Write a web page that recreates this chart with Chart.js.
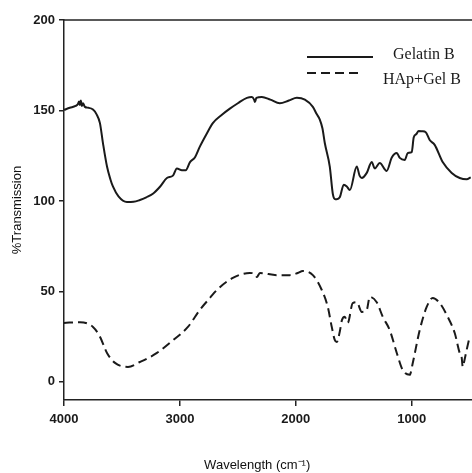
<!DOCTYPE html>
<html>
<head>
<meta charset="utf-8">
<script src="https://cdn.jsdelivr.net/npm/chart.js@4"></script>
<style>
  body { margin: 0; background: #fff; }
  canvas { display: block; }
</style>
</head>
<body>
<canvas id="grafico" width="472" height="473"></canvas>
<script>
var gelWave = [4000, 3950, 3900, 3880, 3870, 3862, 3855, 3845, 3835, 3820, 3790, 3750, 3720, 3690, 3664, 3629, 3600, 3578, 3530, 3457, 3400, 3345, 3290, 3233, 3170, 3112, 3060, 3026, 2983, 2950, 2913, 2871, 2828, 2770, 2716, 2640, 2569, 2500, 2422, 2379, 2360, 2353, 2340, 2293, 2220, 2138, 2060, 1991, 1922, 1853, 1820, 1793, 1770, 1750, 1707, 1681, 1660, 1647, 1621, 1586, 1560, 1534, 1474, 1450, 1431, 1388, 1345, 1319, 1276, 1216, 1172, 1129, 1103, 1060, 1034, 1000, 983, 960, 940, 910, 879, 845, 802, 733, 655, 586, 526, 491];
var gelT = [150.3, 151.5, 152.5, 153.5, 155, 153, 155.5, 152.5, 154, 152, 151.5, 150.5, 148, 143, 132, 119, 112, 108, 102.5, 99.4, 99.5, 100.5, 102, 104, 108, 112.7, 114, 118, 117, 117, 121.5, 124, 130, 137, 143, 147.5, 151, 154, 157, 157.5, 156, 154.7, 157, 157.5, 156, 154, 155.5, 157, 156, 152, 148, 145, 140, 132, 119, 104, 101, 101, 102, 109, 108, 106, 119, 114, 112.7, 115.5, 121.5, 118, 121, 116.6, 124, 126.5, 123.8, 122.7, 126.5, 127, 135, 137, 138.7, 138.5, 138, 133.7, 131, 121.5, 115.5, 112.7, 112, 113];

var hapWave = [4000, 3862, 3750, 3690, 3629, 3560, 3448, 3345, 3198, 3060, 2931, 2828, 2741, 2681, 2543, 2397, 2350, 2336, 2310, 2164, 2052, 1983, 1940, 1853, 1776, 1724, 1690, 1664, 1647, 1620, 1603, 1578, 1552, 1509, 1474, 1431, 1388, 1362, 1302, 1250, 1190, 1129, 1078, 1017, 991, 931, 871, 819, 759, 690, 629, 586, 570, 560, 545, 526, 500];
var hapT = [32.6, 33, 30.4, 25, 16, 10.5, 8.3, 11, 16, 23, 30.4, 39.8, 46.4, 50.8, 57.5, 60.2, 59.5, 58, 60.2, 59, 59, 60.2, 61.3, 59, 50.8, 41.4, 30.4, 23.2, 22, 28, 34, 36, 32.6, 43.6, 44, 38.7, 39.8, 47, 44, 36, 28.7, 16, 6.6, 3.9, 10.5, 28.7, 41.4, 46.4, 43.6, 36, 27, 16, 14, 8.3, 12, 17.7, 25];

var etiquetas = ['Gelatin B', 'HAp+Gel B'];
var xTicks = [4000, 3000, 2000, 1000];
var yTicks = [0, 50, 100, 150, 200];

function puntos(xs, ys) {
  return xs.map(function (x, i) { return { x: x, y: ys[i] }; });
}

// leyenda dibujada a mano (linea a la izquierda, texto a la derecha)
var leyenda = {
  id: 'leyenda',
  afterDraw: function (chart) {
    var ctx = chart.ctx;
    var area = chart.chartArea;
    ctx.save();
    ctx.strokeStyle = '#222';
    ctx.lineWidth = 1.5;
    ctx.beginPath();
    ctx.moveTo(area.left, area.top);
    ctx.lineTo(area.right, area.top);
    ctx.stroke();

    var lineaY = [57, 73];
    var lineaFin = [373, 358];
    var textoX = [393, 383];
    var textoY = [55, 80];
    chart.data.datasets.forEach(function (ds, i) {
      ctx.strokeStyle = ds.borderColor;
      ctx.lineWidth = 2;
      ctx.setLineDash(ds.borderDash || []);
      ctx.beginPath();
      ctx.moveTo(307, lineaY[i]);
      ctx.lineTo(lineaFin[i], lineaY[i]);
      ctx.stroke();
      ctx.setLineDash([]);
      ctx.fillStyle = '#1a1a1a';
      ctx.font = '16px "Liberation Serif", "Times New Roman", serif';
      ctx.textBaseline = 'middle';
      ctx.textAlign = 'left';
      ctx.fillText(ds.label, textoX[i], textoY[i]);
    });
    ctx.restore();
  }
};

function sinComa(v) { return String(v); }

new Chart(document.getElementById('grafico'), {
  type: 'line',
  data: {
    datasets: [
      {
        label: etiquetas[0],
        data: puntos(gelWave, gelT),
        borderColor: '#1a1a1a',
        borderWidth: 2,
        pointRadius: 0,
        cubicInterpolationMode: 'monotone',
        fill: false
      },
      {
        label: etiquetas[1],
        data: puntos(hapWave, hapT),
        borderColor: '#1a1a1a',
        borderWidth: 2,
        borderDash: [9, 5],
        pointRadius: 0,
        cubicInterpolationMode: 'monotone',
        fill: false
      }
    ]
  },
  options: {
    responsive: false,
    animation: false,
    layout: { padding: { top: 20, right: 0, left: 0, bottom: 0 } },
    plugins: {
      legend: { display: false },
      tooltip: { enabled: false }
    },
    scales: {
      x: {
        type: 'linear',
        reverse: true,
        min: 480,
        max: 4000,
        afterBuildTicks: function (scale) {
          scale.ticks = xTicks.map(function (v) { return { value: v }; });
        },
        afterFit: function (scale) { scale.height = 73; },
        grid: { display: true, drawOnChartArea: false, drawTicks: true, tickLength: 6, color: '#222', lineWidth: 1.5 },
        border: { display: true, color: '#222', width: 1.5 },
        ticks: {
          color: '#1a1a1a',
          padding: 6,
          maxRotation: 0,
          callback: sinComa,
          font: { family: '"Liberation Sans", Arial, sans-serif', size: 13, weight: 'bold' }
        },
        title: {
          display: true,
          text: 'Wavelength (cm\u207B\u00B9)      ',
          color: '#111',
          padding: { top: 0, bottom: 0 },
          font: { family: '"Liberation Sans", Arial, sans-serif', size: 13 }
        }
      },
      y: {
        min: -10,
        max: 200,
        afterBuildTicks: function (scale) {
          scale.ticks = yTicks.map(function (v) { return { value: v }; });
        },
        afterFit: function (scale) { scale.width = 64; },
        grid: { display: true, drawOnChartArea: false, drawTicks: true, tickLength: 5, color: '#222', lineWidth: 1.5 },
        border: { display: true, color: '#222', width: 1.5 },
        ticks: {
          color: '#1a1a1a',
          padding: 4,
          callback: sinComa,
          font: { family: '"Liberation Sans", Arial, sans-serif', size: 13, weight: 'bold' }
        },
        title: {
          display: true,
          text: '%Transmission',
          color: '#111',
          padding: { top: 10, bottom: 0 },
          font: { family: '"Liberation Sans", Arial, sans-serif', size: 13 }
        }
      }
    }
  },
  plugins: [leyenda]
});
</script>
</body>
</html>
